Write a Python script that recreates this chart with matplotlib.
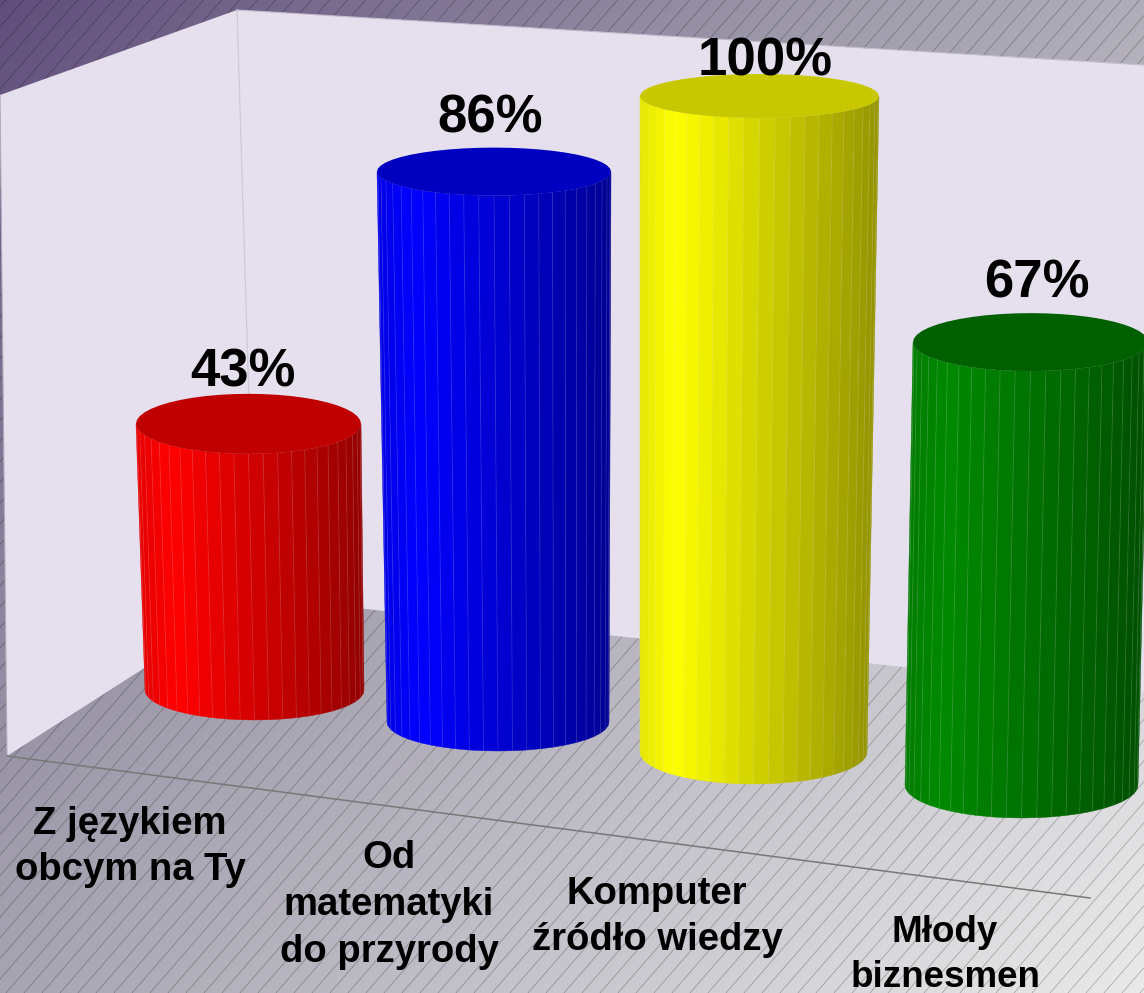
import matplotlib
matplotlib.use("Agg")
import matplotlib.pyplot as plt
import numpy as np

# chart data
categories = ["Z językiem\nobcym na Ty", "Od\nmatematyki\ndo przyrody", "Komputer\nźródło wiedzy", "Młody\nbiznesmen"]
values = [43, 86, 100, 67]
value_labels = ["43%", "86%", "100%", "67%"]

# colours of each cylinder, side at full light and top face
side_colors = [(1, 0, 0), (0, 0, 1), (1, 1, 0), (0, 0.54, 0)]
top_colors = ["#c00000", "#0000c0", "#c8c800", "#006000"]

# perspective layout in pixels, one entry per cylinder
base_y = [690, 722, 752, 785]
px_per_pct = [6.19, 6.40, 6.56, 6.61]
top_left = [136, 377, 640, 913]
top_right = [361, 611, 879, 1148]
top_ry = [30, 24, 22, 29]
base_left = [145, 387, 640, 905]
base_right = [364, 609, 867, 1138]
base_ry = [30, 29, 32, 33]
label_offset = [51, 53, 35, 59]
label_dx = [-6, -4, 6, 6]
cat_xy = [(130, 847), (389, 905), (657, 917), (945, 955)]
cat_size = [27.5, 27.5, 27.5, 26.5]

W, H = 1144, 993
fig = plt.figure(figsize=(W / 100, H / 100), dpi=100)
ax = fig.add_axes([0, 0, 1, 1])
ax.set_xlim(0, W)
ax.set_ylim(H, 0)
ax.axis("off")

plt.rcParams["font.family"] = ["Liberation Sans", "DejaVu Sans"]

# diagonal background, greyer towards the middle
yy, xx = np.mgrid[0:H, 0:W]
t = (xx + yy) / (W + H)
stops = [0, 0.4, 1]
bg = np.dstack([
    np.interp(t, stops, [0x60, 0xa0, 0xea]),
    np.interp(t, stops, [0x4d, 0x9c, 0xea]),
    np.interp(t, stops, [0x7c, 0xac, 0xea]),
]) / 255
ax.imshow(bg, extent=(0, W, H, 0), aspect="auto", zorder=0)

# hatch lines
for x0 in np.arange(-1200, W + 1200, 18):
    ax.plot([x0, x0 + 1200], [H, H - 1200 * 1.15], color="black", alpha=0.28, lw=0.55, zorder=1)

# walls
wall = "#e6e0ee"
ax.fill([237, 1144, 1144, 255], [10, 65, 693, 597], color=wall, lw=0, zorder=2)
ax.fill([0, 237, 255, 7], [95, 10, 597, 756], color=wall, lw=0, zorder=2)
ax.plot([237, 255], [10, 597], color="#d0cad8", lw=0.9, zorder=3)
ax.plot([237, 1144], [10, 65], color="#c4bece", lw=0.8, zorder=3)
ax.plot([0, 7], [95, 756], color="#b0aabb", lw=0.8, zorder=3)

# front edge of the floor
ax.plot([7, 1090], [756, 898], color="#777777", lw=1.1, zorder=3)

# cylinders
n_front = 24
angles = np.linspace(np.pi, 0, n_front + 1)
for i in range(len(values)):
    top_y = base_y[i] - values[i] * px_per_pct[i]
    cx_t = (top_left[i] + top_right[i]) / 2
    rx_t = (top_right[i] - top_left[i]) / 2
    cx_b = (base_left[i] + base_right[i]) / 2
    rx_b = (base_right[i] - base_left[i]) / 2

    xt = cx_t + rx_t * np.cos(angles)
    yt = top_y + top_ry[i] * np.sin(angles)
    xb = cx_b + rx_b * np.cos(angles)
    yb = base_y[i] + base_ry[i] * np.sin(angles)

    for k in range(n_front):
        pos = (0.5 * (xt[k] + xt[k + 1]) - top_left[i]) / (top_right[i] - top_left[i])
        shade = np.interp(pos, [0, 0.15, 1], [0.9, 1.0, 0.58])
        color = tuple(c * shade for c in side_colors[i])
        ax.fill([xt[k], xt[k + 1], xb[k + 1], xb[k]], [yt[k], yt[k + 1], yb[k + 1], yb[k]],
                facecolor=color, edgecolor=color, lw=0.3, zorder=4 + i)
    for k in range(1, n_front):
        ax.plot([xt[k], xb[k]], [yt[k], yb[k]], color="white", alpha=0.12, lw=0.7, zorder=4 + i)

    # top face, many sided like the side
    around = np.linspace(0, 2 * np.pi, 2 * n_front + 1)
    ax.fill(cx_t + rx_t * np.cos(around), top_y + top_ry[i] * np.sin(around),
            facecolor=top_colors[i], edgecolor="none", zorder=4.5 + i)

    ax.text(cx_t + label_dx[i], top_y - label_offset[i], value_labels[i], fontsize=38, fontweight="bold",
            ha="center", va="center", color="black", zorder=10)

# category labels
for i in range(len(categories)):
    ax.text(cat_xy[i][0], cat_xy[i][1], categories[i], fontsize=cat_size[i], fontweight="bold",
            ha="center", va="center", color="black", linespacing=1.38, zorder=10)

fig.savefig("out.png", dpi=100)
